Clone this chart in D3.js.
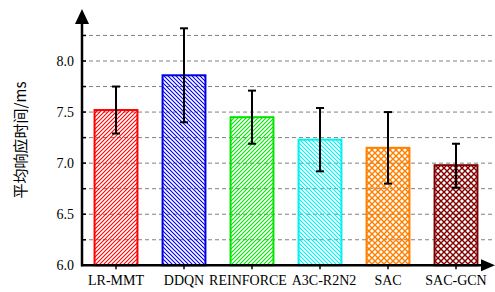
<!DOCTYPE html>
<html>
<head>
<meta charset="utf-8">
<script src="https://cdn.jsdelivr.net/npm/d3@7"></script>
<style>
  html, body { margin: 0; padding: 0; background: #fff; }
  svg { display: block; }
</style>
</head>
<body>
<svg id="chart" width="495" height="292"></svg>
<script>
// mean response time per method, with error bar ends
const methods = ["LR-MMT", "DDQN", "REINFORCE", "A3C-R2N2", "SAC", "SAC-GCN"];
const means = [7.52, 7.86, 7.45, 7.23, 7.15, 6.98];
const errHigh = [7.75, 8.32, 7.71, 7.54, 7.50, 7.19];
const errLow = [7.29, 7.40, 7.19, 6.92, 6.80, 6.76];
const colors = ["#ff0000", "#0000e6", "#00e600", "#00f0f0", "#ff8000", "#800000"];
const hatch = ["ne", "nw", "ne", "nw", "cross", "cross"];
const yLabels = [6.0, 6.5, 7.0, 7.5, 8.0];
const gridVals = [6.25, 6.5, 6.75, 7.0, 7.25, 7.5, 7.75, 8.0, 8.25];

const SERIF = "'Liberation Serif', 'DejaVu Serif', serif";
const svg = d3.select("#chart");
const X0 = 82, X1 = 490, Y0 = 265.3;

const x = d3.scaleBand().domain(methods).range([X0, X1]).paddingInner(0.34).paddingOuter(0.17);
const y = d3.scaleLinear().domain([6.0, 8.0]).range([Y0, 61]);

// hatch patterns
const defs = svg.append("defs");
methods.forEach((m, i) => {
  const c = colors[i];
  if (hatch[i] === "cross") {
    const s = 6;
    const p = defs.append("pattern").attr("id", "pat" + i)
      .attr("patternUnits", "userSpaceOnUse").attr("width", s).attr("height", s);
    p.append("path").attr("d", `M0,0L${s},${s}M${s},0L0,${s}`)
      .attr("stroke", c).attr("stroke-width", 1.4).attr("fill", "none");
    p.append("path").attr("d", `M-1,${s - 1}L1,${s + 1}M${s - 1},-1L${s + 1},1M-1,1L1,-1M${s - 1},${s + 1}L${s + 1},${s - 1}`)
      .attr("stroke", c).attr("stroke-width", 1.4).attr("fill", "none");
  } else {
    const s = 4;
    const p = defs.append("pattern").attr("id", "pat" + i)
      .attr("patternUnits", "userSpaceOnUse").attr("width", s).attr("height", s);
    const d = hatch[i] === "ne"
      ? `M0,${s}L${s},0M-1,1L1,-1M${s - 1},${s + 1}L${s + 1},${s - 1}`
      : `M0,0L${s},${s}M-1,${s - 1}L1,${s + 1}M${s - 1},-1L${s + 1},1`;
    p.append("path").attr("d", d).attr("stroke", c).attr("stroke-width", 1.1).attr("fill", "none");
  }
});

// dashed gridlines
svg.append("g").selectAll("line").data(gridVals).join("line")
  .attr("x1", X0).attr("x2", 495)
  .attr("y1", d => y(d)).attr("y2", d => y(d))
  .attr("stroke", "#808080").attr("stroke-width", 1).attr("stroke-dasharray", "4,3");

// bars
svg.append("g").selectAll("rect").data(methods).join("rect")
  .attr("x", d => x(d) + 1)
  .attr("width", x.bandwidth() - 2)
  .attr("y", (d, i) => y(means[i]))
  .attr("height", (d, i) => Y0 - y(means[i]))
  .attr("fill", (d, i) => `url(#pat${i})`)
  .attr("stroke", (d, i) => colors[i])
  .attr("stroke-width", 2);

// error bars
const eb = svg.append("g").attr("stroke", "#000").attr("stroke-width", 2);
methods.forEach((m, i) => {
  const cx = x(m) + x.bandwidth() / 2;
  eb.append("line").attr("x1", cx).attr("x2", cx).attr("y1", y(errHigh[i])).attr("y2", y(errLow[i]));
  eb.append("line").attr("x1", cx - 4).attr("x2", cx + 4).attr("y1", y(errHigh[i])).attr("y2", y(errHigh[i]));
  eb.append("line").attr("x1", cx - 4).attr("x2", cx + 4).attr("y1", y(errLow[i])).attr("y2", y(errLow[i]));
});

// y axis: ticks inward at every gridline, labels at 0.5 steps
const yAxis = svg.append("g").attr("transform", `translate(${X0},0)`)
  .call(d3.axisLeft(y).tickValues(yLabels).tickSize(0).tickPadding(8).tickFormat(d3.format(".1f")))
  .attr("font-family", SERIF).attr("font-size", 14);
yAxis.select(".domain").remove();
yAxis.selectAll("text").attr("fill", "#000");
svg.append("g").selectAll("line").data(gridVals).join("line")
  .attr("x1", X0).attr("x2", X0 + 4)
  .attr("y1", d => y(d)).attr("y2", d => y(d))
  .attr("stroke", "#000").attr("stroke-width", 1.5);

// x axis: ticks below at bar centres
const xAxis = svg.append("g").attr("transform", `translate(0,${Y0})`)
  .call(d3.axisBottom(x).tickSize(4).tickPadding(6))
  .attr("font-family", SERIF).attr("font-size", 14);
xAxis.select(".domain").remove();
xAxis.selectAll("line").attr("stroke", "#000").attr("stroke-width", 1.5);
// the two long neighbouring labels sit slightly apart, as in the source
xAxis.selectAll("text").attr("fill", "#000")
  .attr("dx", d => d === "REINFORCE" ? -4 : d === "A3C-R2N2" ? 4 : 0);

// axis lines with arrowheads
svg.append("line").attr("x1", X0).attr("x2", X0).attr("y1", Y0 + 1).attr("y2", 22)
  .attr("stroke", "#000").attr("stroke-width", 2.5);
svg.append("path").attr("d", `M${X0},9L${X0 - 7},24L${X0 + 7},24Z`).attr("fill", "#000");
svg.append("line").attr("x1", X0 - 1).attr("x2", 484).attr("y1", Y0).attr("y2", Y0)
  .attr("stroke", "#000").attr("stroke-width", 2.5);
svg.append("path").attr("d", `M495,${Y0}L481,${Y0 - 6}L481,${Y0 + 6}Z`).attr("fill", "#000");

// y axis title
svg.append("text")
  .attr("transform", "translate(26,140) rotate(-90)")
  .attr("text-anchor", "middle")
  .attr("font-family", "'Noto Sans CJK SC', sans-serif")
  .attr("font-size", 15)
  .attr("fill", "#000")
  .text("平均响应时间/ms");
</script>
</body>
</html>
